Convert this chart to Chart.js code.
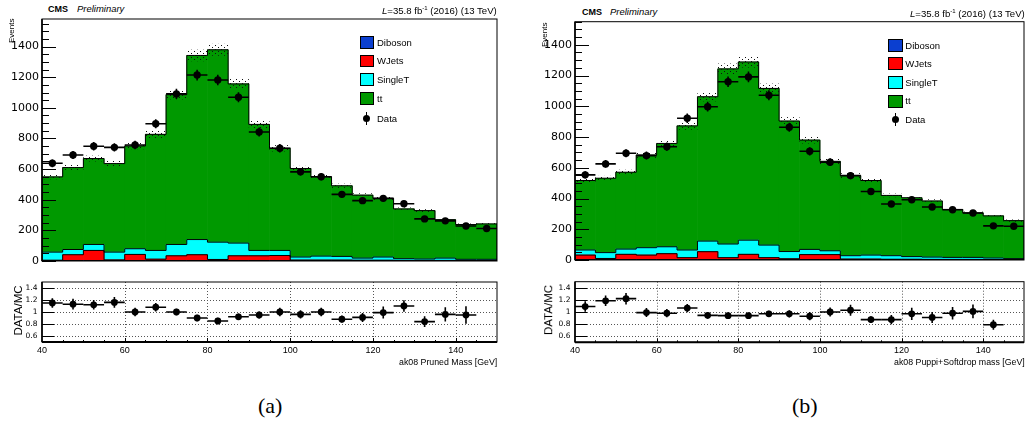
<!DOCTYPE html>
<html>
<head>
<meta charset="utf-8">
<title>ak08 jet mass: data vs. simulation</title>
<script src="https://cdn.jsdelivr.net/npm/chart.js@4.4.1/dist/chart.umd.min.js"></script>
<style>
  html, body { margin: 0; padding: 0; background: #fff; }
  body { position: relative; width: 1033px; height: 428px; overflow: hidden;
         font-family: "Liberation Sans", Arial, sans-serif; color: #000; }
  canvas { position: absolute; }
  .txt { position: absolute; white-space: nowrap; line-height: 1; }
  .box { position: absolute; box-sizing: border-box; border: 1px solid #000; }
  .dot { position: absolute; border-radius: 50%; background: #000; }
  .bar { position: absolute; background: #000; }
</style>
</head>
<body>
<script>
// ---- binning and axis ticks -------------------------------------------
const binCenters = [42.5, 47.5, 52.5, 57.5, 62.5, 67.5, 72.5, 77.5, 82.5, 87.5, 92.5,
                    97.5, 102.5, 107.5, 112.5, 117.5, 122.5, 127.5, 132.5, 137.5, 142.5, 147.5];
const binWidth = 5;
const massTicks = [40, 60, 80, 100, 120, 140];
const eventTicks = [0, 200, 400, 600, 800, 1000, 1200, 1400];
const ratioTicks = [0.6, 0.8, 1, 1.2, 1.4];

// ---- (a) pruned mass ----------------------------------------------------
const dibosonA = [3, 3, 3, 3, 3, 3, 3, 3, 3, 3, 3, 3, 3, 3, 3, 3, 3, 2, 2, 2, 2, 2];
const wjetsA   = [2, 38, 66, 4, 40, 9, 31, 38, 7, 31, 31, 33, 3, 3, 3, 2, 2, 2, 2, 2, 1, 1];
const singleTA = [53, 34, 39, 51, 37, 57, 74, 99, 113, 83, 35, 33, 20, 26, 24, 14, 21, 11, 9, 15, 8, 8];
const ttA      = [491, 535, 561, 578, 671, 758, 978, 1202, 1256, 1039, 823, 667, 578, 518, 461, 411, 383, 325, 316, 251, 227, 231];
const dataA    = [638, 692, 749, 742, 757, 896, 1091, 1214, 1182, 1069, 842, 736, 582, 550, 435, 394, 409, 374, 275, 262, 229, 212];
const ratioA   = [1.15, 1.13, 1.12, 1.16, 1.00, 1.08, 1.00, 0.90, 0.85, 0.92, 0.95, 1.00, 0.96, 1.00, 0.88, 0.91, 0.99, 1.10, 0.84, 0.96, 0.95, null];
const ratioErrA = [0.08, 0.09, 0.08, 0.09, 0.07, 0.07, 0.055, 0.055, 0.055, 0.055, 0.06, 0.07, 0.07, 0.07, 0.06, 0.075, 0.10, 0.095, 0.09, 0.12, 0.145, null];

// ---- (b) PUPPI + softdrop mass -------------------------------------------
const dibosonB = [3, 3, 3, 3, 3, 3, 3, 3, 3, 3, 3, 3, 3, 3, 3, 3, 3, 3, 3, 3, 3, 3];
const wjetsB   = [29, 7, 34, 29, 38, 12, 51, 12, 34, 12, 5, 32, 32, 3, 3, 2, 2, 1, 1, 1, 0, 0];
const singleTB = [33, 38, 34, 48, 45, 50, 69, 89, 92, 82, 47, 34, 25, 22, 26, 23, 17, 15, 13, 13, 10, 6];
const ttB      = [452, 484, 500, 603, 672, 807, 939, 1139, 1159, 1019, 849, 711, 582, 521, 485, 392, 383, 365, 312, 289, 274, 247];
const dataB    = [554, 625, 694, 679, 737, 922, 997, 1159, 1191, 1072, 863, 707, 636, 549, 446, 364, 392, 345, 327, 306, 222, 220];
const ratioB   = [1.09, 1.185, 1.22, 0.99, 0.98, 1.065, 0.945, 0.94, 0.94, 0.97, 0.97, 0.93, 1.00, 1.03, 0.875, 0.875, 0.97, 0.91, 0.98, 1.01, 0.79, null];
const ratioErrB = [0.087, 0.087, 0.095, 0.074, 0.068, 0.068, 0.057, 0.05, 0.05, 0.05, 0.06, 0.068, 0.074, 0.09, 0.055, 0.077, 0.10, 0.09, 0.104, 0.115, 0.082, null];

// relative size of the MC uncertainty band
const mcRelUnc = 0.028;

// ---- process styles ------------------------------------------------------
const colDiboson = '#0b3fd0', colWJets = '#ff0000', colSingleT = '#00ffff', colTT = '#009900';
const processNames = ['Diboson', 'WJets', 'SingleT', 'tt'];
const processColors = [colDiboson, colWJets, colSingleT, colTT];

// ---- helpers ---------------------------------------------------------------
function dotPattern() {
  const p = document.createElement('canvas');
  p.width = 6; p.height = 4;
  const g = p.getContext('2d');
  g.fillStyle = '#111';
  g.fillRect(0, 0, 1, 1);
  g.fillRect(3, 2, 1, 1);
  return g.createPattern(p, 'repeat');
}

function mount(frame, yW, xH) {
  const c = document.createElement('canvas');
  const left = Math.floor(frame.L - yW), top = Math.floor(frame.T - 4);
  const right = Math.ceil(frame.R + 3), bottom = Math.ceil(frame.B + xH + 2);
  c.width = right - left; c.height = bottom - top;
  c.style.left = left + 'px'; c.style.top = top + 'px';
  c.style.width = c.width + 'px'; c.style.height = c.height + 'px';
  document.body.appendChild(c);
  const padding = { left: frame.L - yW - left, top: frame.T - top,
                    right: right - frame.R, bottom: bottom - frame.B - xH };
  return { canvas: c, padding };
}

function edges(xs, i) {
  return [xs.getPixelForValue(binCenters[i] - binWidth / 2),
          xs.getPixelForValue(binCenters[i] + binWidth / 2)];
}

function drawFrame(ctx, a, bottomWidth) {
  ctx.save();
  ctx.strokeStyle = '#000';
  ctx.lineWidth = 1;
  ctx.strokeRect(a.left, a.top, a.right - a.left, a.bottom - a.top);
  ctx.lineWidth = 1.6;
  ctx.beginPath(); ctx.moveTo(a.left, a.top); ctx.lineTo(a.left, a.bottom); ctx.stroke();
  if (bottomWidth) {
    ctx.lineWidth = bottomWidth;
    ctx.beginPath(); ctx.moveTo(a.left, a.bottom); ctx.lineTo(a.right, a.bottom); ctx.stroke();
  }
  ctx.restore();
}

const baseOptions = (padding) => ({
  responsive: false, animation: false, devicePixelRatio: 1, events: [],
  layout: { padding },
  plugins: { legend: { display: false }, tooltip: { enabled: false } }
});

// plain tick text, no thousands separators
const plainTick = v => String(v);

// ---- upper panel: stacked simulation + data ------------------------------
function mainChart(frame, stack, data, yMax) {
  const { canvas, padding } = mount(frame, 40, 0);
  const hatch = dotPattern();
  const datasets = [{
    type: 'scatter', label: 'Data', stack: 'obs',
    data: binCenters.map((x, i) => ({ x, y: data[i] })),
    pointRadius: 3.7, pointBackgroundColor: '#000', pointBorderWidth: 0
  }];
  stack.forEach((vals, k) => datasets.push({
    type: 'bar', label: processNames[k], stack: 'mc',
    data: binCenters.map((x, i) => ({ x, y: vals[i] })),
    backgroundColor: processColors[k], borderWidth: 0,
    barPercentage: 1, categoryPercentage: 1
  }));

  const decor = {
    id: 'mainDecor',
    beforeDatasetDraw(chart, args) {
      if (args.index !== 0) return;
      const { ctx, chartArea: a } = chart, xs = chart.scales.x, ys = chart.scales.y;
      ctx.save();
      ctx.beginPath(); ctx.rect(a.left, a.top, a.right - a.left, a.bottom - a.top); ctx.clip();
      // cumulative stack levels
      const levels = [];
      let run = binCenters.map(() => 0);
      stack.forEach(vals => { run = run.map((v, i) => v + vals[i]); levels.push(run); });
      const total = levels[levels.length - 1];
      // step outlines of every stack level
      ctx.strokeStyle = '#000'; ctx.lineWidth = 1;
      levels.forEach(lv => {
        ctx.beginPath();
        ctx.moveTo(xs.getPixelForValue(40), ys.getPixelForValue(0));
        lv.forEach((v, i) => {
          const [x0, x1] = edges(xs, i), y = ys.getPixelForValue(v);
          ctx.lineTo(x0, y); ctx.lineTo(x1, y);
        });
        ctx.lineTo(xs.getPixelForValue(150), ys.getPixelForValue(0));
        ctx.stroke();
      });
      // MC uncertainty band
      ctx.fillStyle = hatch;
      total.forEach((t, i) => {
        const [x0, x1] = edges(xs, i);
        const y0 = ys.getPixelForValue(t * (1 + mcRelUnc)), y1 = ys.getPixelForValue(t * (1 - mcRelUnc));
        ctx.fillRect(x0, y0, x1 - x0, y1 - y0);
      });
      // data error bars (Poisson)
      ctx.strokeStyle = '#000'; ctx.lineWidth = 1.6;
      data.forEach((d, i) => {
        const [x0, x1] = edges(xs, i);
        const xc = xs.getPixelForValue(binCenters[i]), yc = ys.getPixelForValue(d);
        const e = Math.sqrt(d);
        ctx.beginPath();
        ctx.moveTo(x0, yc); ctx.lineTo(x1, yc);
        ctx.moveTo(xc, ys.getPixelForValue(d - e)); ctx.lineTo(xc, ys.getPixelForValue(d + e));
        ctx.stroke();
      });
      ctx.restore();
    },
    afterDraw(chart) {
      const { ctx, chartArea: a } = chart, ys = chart.scales.y;
      ctx.save();
      ctx.strokeStyle = '#000'; ctx.lineWidth = 1;
      for (let v = 0; v <= yMax; v += 50) {
        const y = Math.round(ys.getPixelForValue(v)) + 0.5;
        const len = (v % 200 === 0) ? 14 : 7;
        ctx.beginPath(); ctx.moveTo(a.left, y); ctx.lineTo(a.left + len, y); ctx.stroke();
      }
      ctx.restore();
      drawFrame(ctx, a, 0);
    }
  };

  return new Chart(canvas, {
    type: 'bar',
    data: { datasets },
    options: Object.assign(baseOptions(padding), {
      scales: {
        x: { type: 'linear', min: 40, max: 150, offset: false, stacked: true, display: false },
        y: { type: 'linear', min: 0, max: yMax, stacked: true,
             grid: { display: false, drawTicks: false }, border: { display: false },
             ticks: { color: '#000', padding: 3, callback: plainTick,
                      font: { family: 'DejaVu Sans', size: 11 } },
             afterBuildTicks: s => { s.ticks = eventTicks.map(v => ({ value: v })); },
             afterFit: s => { s.width = 40; s.paddingTop = 0; s.paddingBottom = 0; } }
      }
    }),
    plugins: [decor]
  });
}

// ---- lower panel: data / MC ------------------------------------------------
function ratioChart(frame, ratio, err) {
  const { canvas, padding } = mount(frame, 40, 16);
  const pts = binCenters.map((x, i) => ({ x, y: ratio[i] })).filter(p => p.y !== null);
  const decor = {
    id: 'ratioDecor',
    beforeDatasetsDraw(chart) {
      const { ctx, chartArea: a } = chart, xs = chart.scales.x, ys = chart.scales.y;
      ctx.save();
      ctx.strokeStyle = '#555'; ctx.lineWidth = 1; ctx.setLineDash([1, 2]);
      ratioTicks.forEach(v => {
        const y = Math.round(ys.getPixelForValue(v)) + 0.5;
        ctx.beginPath(); ctx.moveTo(a.left, y); ctx.lineTo(a.right, y); ctx.stroke();
      });
      massTicks.slice(1).forEach(v => {
        const x = Math.round(xs.getPixelForValue(v)) + 0.5;
        ctx.beginPath(); ctx.moveTo(x, a.top); ctx.lineTo(x, a.bottom); ctx.stroke();
      });
      ctx.restore();
    },
    beforeDatasetDraw(chart, args) {
      if (args.index !== 0) return;
      const { ctx } = chart, xs = chart.scales.x, ys = chart.scales.y;
      ctx.save();
      ctx.strokeStyle = '#000'; ctx.lineWidth = 1.6;
      ratio.forEach((r, i) => {
        if (r === null) return;
        const [x0, x1] = edges(xs, i);
        const xc = xs.getPixelForValue(binCenters[i]), yc = ys.getPixelForValue(r);
        ctx.beginPath();
        ctx.moveTo(x0, yc); ctx.lineTo(x1, yc);
        ctx.moveTo(xc, ys.getPixelForValue(r - err[i])); ctx.lineTo(xc, ys.getPixelForValue(r + err[i]));
        ctx.stroke();
      });
      ctx.restore();
    },
    afterDraw(chart) {
      const { ctx, chartArea: a } = chart, xs = chart.scales.x, ys = chart.scales.y;
      ctx.save();
      ctx.strokeStyle = '#000'; ctx.lineWidth = 1;
      ratioTicks.forEach(v => {
        const y = Math.round(ys.getPixelForValue(v)) + 0.5;
        ctx.beginPath(); ctx.moveTo(a.left, y); ctx.lineTo(a.left + 12, y); ctx.stroke();
      });
      for (let v = 45; v < 150; v += 5) {
        const x = Math.round(xs.getPixelForValue(v)) + 0.5;
        const len = (v % 20 === 0) ? 4 : 2;
        ctx.beginPath(); ctx.moveTo(x, a.bottom); ctx.lineTo(x, a.bottom - len); ctx.stroke();
      }
      ctx.restore();
      drawFrame(ctx, a, 2);
    }
  };
  return new Chart(canvas, {
    type: 'scatter',
    data: { datasets: [{ label: 'DATA/MC', data: pts, pointRadius: 3.4,
                         pointBackgroundColor: '#000', pointBorderWidth: 0 }] },
    options: Object.assign(baseOptions(padding), {
      scales: {
        x: { type: 'linear', min: 40, max: 150, offset: false,
             grid: { display: false, drawTicks: false }, border: { display: false },
             ticks: { color: '#000', padding: 3, maxRotation: 0, callback: plainTick,
                      font: { family: 'Liberation Sans', size: 9 } },
             afterBuildTicks: s => { s.ticks = massTicks.map(v => ({ value: v })); },
             afterFit: s => { s.height = 16; s.paddingLeft = 0; s.paddingRight = 0; } },
        y: { type: 'linear', min: 0.5, max: 1.5,
             grid: { display: false, drawTicks: false }, border: { display: false },
             ticks: { color: '#000', padding: 4.5, callback: plainTick,
                      font: { family: 'DejaVu Sans', size: 7.5 } },
             afterBuildTicks: s => { s.ticks = ratioTicks.map(v => ({ value: v })); },
             afterFit: s => { s.width = 40; s.paddingTop = 0; s.paddingBottom = 0; } }
      }
    }),
    plugins: [decor]
  });
}

// ---- text and legend helpers ----------------------------------------------
function text(html, x, baseline, size, o = {}) {
  const el = document.createElement('div');
  el.className = 'txt';
  el.innerHTML = html;
  el.style.fontSize = size + 'px';
  if (o.bold) el.style.fontWeight = 'bold';
  if (o.italic) el.style.fontStyle = 'italic';
  if (o.family) el.style.fontFamily = o.family;
  document.body.appendChild(el);
  const sx = o.sx || 1;
  const w = el.offsetWidth * sx;
  let left = x;
  if (o.align === 'right') left = x - w;
  else if (o.align === 'center') left = x - w / 2;
  el.style.left = left + 'px';
  el.style.top = (baseline - 0.846 * size) + 'px';
  el.style.transformOrigin = '0 0';
  if (sx !== 1) el.style.transform = 'scaleX(' + sx + ')';
  return el;
}

function vtext(str, xc, yRef, size, mode) {
  const el = document.createElement('div');
  el.className = 'txt';
  el.textContent = str;
  el.style.fontSize = size + 'px';
  el.style.left = '0px'; el.style.top = '0px';
  document.body.appendChild(el);
  const w = el.offsetWidth;
  const tx = xc - 0.488 * size;
  const ty = mode === 'top' ? yRef + w : yRef + w / 2;
  el.style.transformOrigin = '0 0';
  el.style.transform = 'translate(' + tx + 'px,' + ty + 'px) rotate(-90deg)';
}

function legend(x, centers, w, h, labelX, dataPos) {
  processNames.forEach((name, k) => {
    const b = document.createElement('div');
    b.className = 'box';
    b.style.left = x + 'px'; b.style.top = (centers[k] - h / 2) + 'px';
    b.style.width = w + 'px'; b.style.height = h + 'px';
    b.style.background = processColors[k];
    document.body.appendChild(b);
    text(name, labelX, centers[k] + 3.4, 9.5);
  });
  const [dx, dy] = dataPos;
  const bar = document.createElement('div');
  bar.className = 'bar';
  bar.style.left = (dx - 0.8) + 'px'; bar.style.top = (dy - 6.5) + 'px';
  bar.style.width = '1.6px'; bar.style.height = '13px';
  document.body.appendChild(bar);
  const dot = document.createElement('div');
  dot.className = 'dot';
  dot.style.left = (dx - 3.6) + 'px'; dot.style.top = (dy - 3.6) + 'px';
  dot.style.width = '7.2px'; dot.style.height = '7.2px';
  document.body.appendChild(dot);
  text('Data', labelX, dy + 3.4, 9.5);
}

// ---- build both figures -----------------------------------------------------
mainChart({ L: 42, R: 498, T: 19, B: 262.3 }, [dibosonA, wjetsA, singleTA, ttA], dataA, 1580);
ratioChart({ L: 42, R: 498, T: 282, B: 342 }, ratioA, ratioErrA);
mainChart({ L: 575, R: 1025, T: 21.7, B: 261.7 }, [dibosonB, wjetsB, singleTB, ttB], dataB, 1550);
ratioChart({ L: 575, R: 1025, T: 281.7, B: 342.3 }, ratioB, ratioErrB);

// (a) labels
text('CMS', 48, 12.8, 9, { bold: true });
text('Preliminary', 77, 12.8, 9, { italic: true, sx: 1.05 });
text('<i>L</i>=35.8 fb<sup style="font-size:6px;vertical-align:4px">-1</sup> (2016) (13 TeV)', 497, 13.5, 9.6, { align: 'right' });
vtext('Events', 11.5, 19, 8, 'top');
vtext('DATA/MC', 18.6, 310.5, 11.5, 'center');
text('ak08 Pruned Mass [GeV]', 497, 365, 8.8, { align: 'right' });
legend(360, [42.7, 61, 79.3, 98.7], 14, 12.7, 377, [366.7, 118.3]);
text('(a)', 270, 414, 22, { family: '"Liberation Serif", serif', align: 'center' });

// (b) labels
text('CMS', 582, 15.3, 9, { bold: true });
text('Preliminary', 610, 15.3, 9, { italic: true, sx: 1.05 });
text('<i>L</i>=35.8 fb<sup style="font-size:6px;vertical-align:4px">-1</sup> (2016) (13 TeV)', 1025, 15.8, 9.6, { align: 'right' });
vtext('Events', 544.5, 23, 8, 'top');
vtext('DATA/MC', 548.8, 310, 11.5, 'center');
text('ak08 Puppi+Softdrop mass [GeV]', 1025, 365, 8.8, { align: 'right' });
legend(888, [45.7, 63.3, 82.3, 101], 14.5, 13, 905.3, [895.3, 119.3]);
text('(b)', 805, 414, 22, { family: '"Liberation Serif", serif', align: 'center' });
</script>
</body>
</html>
